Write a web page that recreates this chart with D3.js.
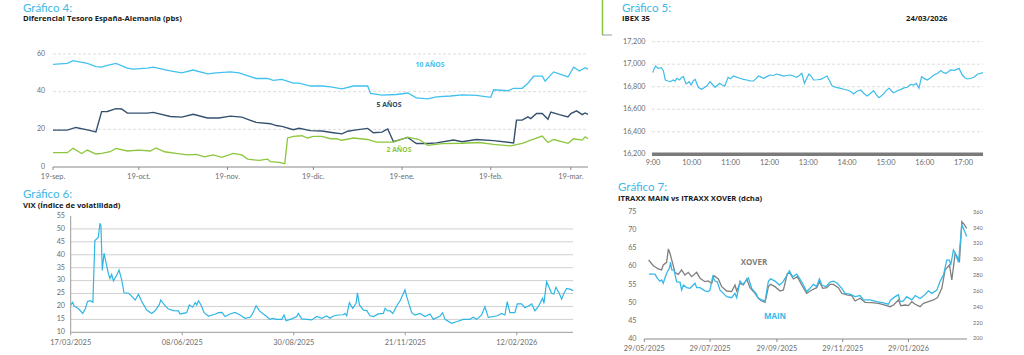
<!DOCTYPE html>
<html><head><meta charset="utf-8">
<script src="https://cdn.jsdelivr.net/npm/d3@7"></script>
<style>
body{margin:0;background:#fff;}
svg{display:block;font-family:Lato,"Open Sans",sans-serif;}
</style></head><body>
<svg id="c" width="1024" height="355"></svg>
<script>
// ---------- Gráfico 4: Diferencial Tesoro España-Alemania (pbs) ----------
const g4Start = "2025-09-19", g4End = "2026-03-25";
const g4TickLabels = ["19-sep.","19-oct.","19-nov.","19-dic.","19-ene.","19-feb.","19-mar."];
const g4TickDates = ["2025-09-19","2025-10-19","2025-11-19","2025-12-19","2026-01-19","2026-02-19","2026-03-19"];
const g4YTicks = [0,20,40,60];
// [day offset from 19-sep, value]
const y10 = [[0,54.5],[5,55],[7,56.5],[12,55],[15,53.3],[17,53],[19,54],[22,55],[26,52.5],[28,52],[33,52.5],[35,53],[41,51],[45,50],[49,51.5],[54,49.5],[57,50],[62,50.5],[65,50],[69,48],[71,47],[75,47],[77,46],[80,46.5],[84,44.5],[86,44.5],[90,43],[94,43],[97,42.5],[101,41.5],[105,43],[108,43],[110,43],[111,39.1],[115,38.2],[120,38.5],[124,39.3],[127,36.7],[131,36.2],[134,37.2],[139,37.7],[143,38.3],[148,38],[153,37],[154,41],[159,40.5],[161,41.8],[164,41.8],[166,44.5],[168,48.2],[171,48.2],[172,45.6],[175,50.5],[180,47.8],[182,53],[184,51],[186,52.7],[187,52]];
const y5 = [[0,19.6],[5,19.6],[8,21],[12,19.7],[15,18.6],[17,29.4],[19,29.5],[22,31],[24,30.8],[26,28.6],[33,28.6],[35,29],[41,26.8],[45,26.5],[49,28],[54,26],[58,26],[62,27],[66,26.5],[69,24.8],[71,23.7],[76,23],[78,22],[80,21.6],[84,19.8],[86,20.6],[90,19.3],[94,19.1],[98,18.2],[101,17.6],[103,19],[106,19.7],[110,20.5],[112,18.2],[115,18.5],[117,20.2],[119,13.4],[124,15.7],[127,12.5],[131,12.5],[134,12.8],[140,14.3],[143,13.4],[148,14.6],[154,14],[161,12.8],[162,24.9],[164,24.9],[166,26.6],[167,25.7],[169,28.4],[171,28.4],[173,25.3],[174,29.2],[177,27.8],[180,26.6],[181,28.4],[183,29.8],[185,27.8],[186,28.7],[187,28]];
const y2 = [[0,7.6],[5,7.6],[7,9.9],[9,8.1],[10,7.2],[12,9],[15,6.9],[17,7.2],[20,8.1],[22,9.9],[26,8.5],[30,9],[34,8.5],[36,10.1],[39,8.1],[43,7.2],[47,6.4],[50,6.7],[53,5.4],[56,6.4],[59,5.1],[63,7.2],[66,6.4],[68,4.2],[72,3.5],[75,4.2],[76,2.8],[79,2.5],[81,1.8],[82,15.4],[84,16.3],[87,16.6],[89,15.4],[91,16.3],[94,16.3],[97,15],[99,15],[101,14.2],[105,15.4],[110,14.6],[113,13.2],[119,13.2],[124,15.9],[128,14.6],[131,11.5],[136,12.4],[143,12.6],[149,13],[154,12],[160,11.2],[164,12.6],[167,14.3],[171,16.4],[173,13],[175,14.6],[180,12.6],[182,15],[185,14.3],[186,16],[187,15]];
const g4Labels = ["10 AÑOS","5 AÑOS","2 AÑOS"];

// ---------- Gráfico 5: IBEX 35 ----------
const g5Date = "24/03/2026";
const g5YTicks = [16200,16400,16600,16800,17000,17200];
const g5XTicks = [0,60,120,180,240,300,360,420,480];
const g5XLabels = ["9:00","10:00","11:00","12:00","13:00","14:00","15:00","16:00","17:00"];
// [minutes since 9:00, level]
const ibex = [[0,16925],[1,16949],[4,16984],[8,16963],[13,16969],[16,16943],[19,16860],[23,16851],[27,16845],[31,16860],[34,16850],[37,16875],[41,16860],[44,16880],[47,16889],[51,16825],[56,16845],[59,16815],[62,16850],[65,16866],[70,16795],[75,16777],[79,16790],[83,16806],[88,16845],[92,16820],[96,16795],[100,16815],[103,16830],[107,16815],[111,16806],[116,16883],[120,16870],[124,16895],[129,16885],[134,16875],[140,16865],[145,16860],[150,16852],[155,16851],[159,16870],[163,16895],[167,16885],[171,16875],[176,16890],[181,16904],[186,16900],[191,16913],[196,16905],[202,16895],[207,16900],[212,16904],[217,16895],[222,16883],[226,16900],[230,16919],[234,16830],[238,16880],[241,16913],[245,16890],[248,16860],[254,16862],[259,16866],[264,16880],[269,16895],[277,16806],[283,16795],[290,16786],[295,16778],[300,16771],[305,16760],[310,16735],[315,16760],[321,16771],[326,16740],[331,16718],[336,16740],[341,16765],[345,16730],[349,16703],[353,16720],[357,16741],[361,16770],[365,16786],[369,16760],[372,16747],[378,16765],[383,16777],[388,16790],[393,16795],[398,16820],[403,16815],[407,16830],[411,16786],[415,16889],[420,16870],[424,16860],[429,16880],[434,16904],[440,16920],[445,16943],[449,16925],[453,16919],[457,16935],[460,16949],[466,16945],[473,16963],[478,16904],[482,16880],[486,16869],[492,16875],[497,16889],[502,16913],[506,16918],[510,16925]];

// ---------- Gráfico 6: VIX ----------
const g6Start = "2025-03-17", g6EndDay = 374;
const g6YTicks = [10,15,20,25,30,35,40,45,50,55];
const g6TickDates = ["2025-03-17","2025-06-08","2025-08-30","2025-11-21","2026-02-12"];
const g6TickLabels = ["17/03/2025","08/06/2025","30/08/2025","21/11/2025","12/02/2026"];
// [day offset from 17/03/2025, VIX]
const vix = [[0,20.6],[1.5,21.6],[2.5,20.2],[6,19],[9,17.3],[11,19.3],[12.5,21.9],[14.5,22.2],[16.5,21.6],[18,45.5],[20.5,46.7],[21.8,52.2],[22.5,51.1],[23.5,33.9],[24.8,40.6],[26.3,37],[28,32.8],[29.2,30.8],[30.5,32.4],[31.8,29.9],[34.3,32.2],[36,34.1],[38,30.2],[39.7,25.3],[43,25.1],[44.6,24.4],[46.1,23.5],[48,22.5],[50.4,24.7],[52.9,21.9],[56.6,18.6],[60.3,17.3],[62.8,18.3],[66,20.8],[67,22.5],[70.3,20.2],[72.7,19],[76.4,18.4],[80.2,18.3],[81.4,17.1],[86.3,17.6],[88.3,20.6],[90.8,19.7],[92.6,21.5],[93.8,20.6],[95.1,22.2],[97,20.6],[99.3,17.6],[102.5,16.3],[107.5,17],[110,17.6],[112.5,17.7],[114.9,16.1],[118.6,17.1],[122.3,17.7],[126,16.7],[129.8,15.4],[133.5,15.8],[134.8,16.7],[136.5,18.4],[138,20.3],[140.5,18.3],[143.4,17.1],[145.9,16.1],[148,15],[150.3,15.4],[153.3,15],[157.1,15],[158.8,16.7],[160.3,14.5],[164.5,15.2],[168.2,16.1],[169.4,17.3],[171.9,15.2],[175.6,15],[179.4,14.8],[183.1,16.1],[186.8,15.4],[190.5,16.3],[193,15.4],[195.5,16.3],[199.2,16.7],[202.9,16.8],[204.2,17.3],[205.4,16.4],[207.4,21.5],[209.9,19.3],[212.4,21.2],[213.4,25.3],[214.9,20.6],[217.9,18.6],[220.3,18.4],[222.8,16.4],[225.3,16.1],[229,17.1],[232.7,17.3],[234,19.3],[235.7,18.4],[237.7,18.3],[239.7,17.3],[242.6,20.2],[245.1,22.2],[247.1,24.4],[248.8,26.4],[250.1,23.8],[253.8,17.6],[256.3,16.7],[260,17.3],[263.7,16.1],[267.4,17.1],[269.9,15],[274.9,16.3],[276.8,17.6],[278.6,15],[283.5,13.5],[287.2,14.1],[292.2,15],[297.1,15],[299.6,15.8],[302.1,15],[305.8,16.7],[308.3,19.9],[310.8,15.8],[317,16.3],[320.7,17.3],[323.2,16.7],[324.9,21.9],[326.9,17.6],[330.6,17.6],[332.4,21],[335.6,21],[338.1,19.5],[340.6,20.2],[343.1,21],[345.5,18.3],[348,19.9],[351.2,23.2],[352.2,21.2],[354.2,29.6],[357.9,25.1],[359.6,24.8],[361.1,27.4],[363.6,25.1],[365.4,22.8],[367.1,25.1],[369.1,27],[372.1,26.6],[374,26.1]];

// ---------- Gráfico 7: ITRAXX MAIN vs ITRAXX XOVER (dcha) ----------
const g7Start = "2025-05-29", g7EndDay = 299;
const g7YLeft = [40,45,50,55,60,65,70,75];
const g7YRight = [200,220,240,260,280,300,320,340,360];
const g7TickDates = ["2025-05-29","2025-07-29","2025-09-29","2025-11-29","2026-01-29"];
const g7TickLabels = ["29/05/2025","29/07/2025","29/09/2025","29/11/2025","29/01/2026"];
// [day offset from 29/05/2025, value]
const itxMain = [[4.3,57.9],[9.9,57.9],[12,56.8],[14.5,56],[16.1,56.3],[17.6,55.4],[19.2,56.9],[21.3,58.6],[23.2,59.5],[24.4,61.2],[25.4,59.1],[27.5,59.1],[30,55.8],[33.1,55.7],[34.6,53.5],[36.2,54.9],[39.3,54.2],[42.4,54],[47,55.4],[48.6,54.2],[51.7,54.2],[56.3,53.3],[59.4,53.1],[60.9,53.5],[63.4,57.2],[65.6,56],[67.7,55.8],[70.2,53.5],[73.3,52.6],[76.4,51.7],[81,51.4],[84.1,52.6],[85.7,51.4],[88.8,56],[91.2,55.1],[93.4,55.7],[96.5,56.9],[99.6,54],[103.6,52.6],[105.8,51.2],[108.9,50.8],[112,50.5],[115.1,56],[117.2,56.6],[121.2,56],[125.3,54.9],[128.4,55.7],[132.1,57.5],[134.6,58.8],[137.6,57.2],[141.4,57.9],[146,55.8],[150.6,53.1],[153.7,54],[156.8,55.1],[159.9,54.5],[162.4,56.6],[164.6,54.9],[168.6,54.5],[172.3,55.7],[175.4,56],[179.1,55.4],[183.1,54],[186.2,52.6],[190.8,52.4],[195.5,51.7],[200.1,52],[203.2,50.8],[209.4,50.8],[215.6,50.3],[221.8,50],[226.4,49.6],[228.6,50.8],[232.6,51.7],[235.7,52.2],[237.2,50.3],[240.3,50.5],[243.4,51.7],[248.1,50.8],[251.2,52],[255.8,51.2],[260.4,52.3],[263.5,53.3],[266.6,52.6],[271.3,53.5],[274.4,56],[277.5,57.7],[280.5,61.8],[283,61.8],[284.2,60.4],[286.7,64.6],[288.3,63.7],[291.4,61.2],[294.5,71.5],[296.6,70.1],[299,68.3]];
const itxXover = [[4,299.8],[8.4,292.6],[13,288.4],[16,287.2],[17.6,293.5],[20.7,296.8],[22.3,313.7],[23.8,308.2],[26.3,295.6],[28.5,283.8],[31.5,281.7],[34.6,287.2],[37.7,280.8],[40.8,284.2],[43.9,278.7],[48.6,284.2],[51.7,276.6],[56.3,272.4],[59.4,273.3],[62.5,270.3],[64.6,280],[68.7,275.8],[71.8,266.1],[76.4,260.6],[81,259.8],[84.1,268.2],[85.7,260.6],[88.8,270.3],[91.9,268.2],[95,275.8],[98,264.8],[102.7,257.7],[105.8,251.4],[108.9,248],[112,246.3],[115.1,266.1],[117.2,269],[121.2,266.1],[125.9,260.6],[129,261.9],[132.7,282.9],[135.2,282.9],[138.3,275.8],[142,278.7],[146,268.2],[150.6,257.7],[155.3,261.9],[159.9,264.8],[162.4,272.4],[165.5,264],[169.2,264.8],[172.3,269],[175.4,269],[180,264.8],[183.1,257.7],[187.8,255.6],[192.4,254.7],[195.5,248],[200.1,251.4],[204.8,246.3],[211,245.9],[217.2,245],[223.3,242.9],[228,240.8],[231.1,242.9],[235.7,249.3],[237.9,242.1],[241.9,242.9],[245,242.1],[248.1,247.2],[251.2,243.8],[255.8,240.8],[258.9,245],[263.5,247.2],[268.2,249.3],[271.9,252.2],[275.9,264],[279,287.2],[283,293.5],[285.2,274.5],[288.3,308.2],[292.3,298.5],[294.5,348.2],[296.6,344.8],[299,339.8]];

// ================== drawing ==================
const svg = d3.select("#c");
const TITLE = "#3cb9e6", TICK = "#6d6d6d", GRID = "#d4d4d4";
const SUB_FONT = "'Open Sans',Lato,sans-serif";
const parse = d3.utcParse("%Y-%m-%d");
const addDays = (s, d) => new Date(parse(s).getTime() + d * 86400000);

function title(x, y, t, s) {
  // y = baseline of the title
  svg.append("text").attr("x", x).attr("y", y)
    .attr("font-size", 11.5).attr("fill", TITLE).text(t);
  svg.append("text").attr("x", x).attr("y", y + 9.5).attr("font-family", SUB_FONT)
    .attr("font-size", 7.7).attr("font-weight", "bold").attr("fill", "#1a1a1a").text(s);
}
function tickText(g, x, y, t, anchor, size) {
  g.append("text").attr("x", x).attr("y", y).attr("text-anchor", anchor || "middle")
    .attr("dominant-baseline", "middle").attr("font-size", size || 7.2).attr("fill", TICK).text(t);
}

// ---- Gráfico 4 ----
title(23, 11.5, "Gráfico 4:", "Diferencial Tesoro España-Alemania (pbs)");
{
  const g = svg.append("g");
  const x = d3.scaleUtc().domain([parse(g4Start), parse(g4End)]).range([53, 588]);
  const y = d3.scaleLinear().domain([0, 60]).range([167, 54]);
  g4YTicks.forEach(v => {
    if (v > 0) g.append("line").attr("x1", 53).attr("x2", 588).attr("y1", y(v)).attr("y2", y(v))
      .attr("stroke", GRID).attr("stroke-width", 0.8).attr("stroke-dasharray", "3,2");
    tickText(g, 45, y(v), v, "end", 7);
  });
  g.append("line").attr("x1", 53).attr("x2", 588).attr("y1", y(0)).attr("y2", y(0)).attr("stroke", "#8a8a8a").attr("stroke-width", 1);
  g4TickDates.forEach((d, i) => {
    const xx = x(parse(d));
    g.append("line").attr("x1", xx).attr("x2", xx).attr("y1", y(0)).attr("y2", y(0) + 3).attr("stroke", "#8a8a8a");
    tickText(g, xx, 177, g4TickLabels[i], "middle", 7.4);
  });
  const line = d3.line().x(d => x(addDays(g4Start, d[0]))).y(d => y(d[1]));
  [[y10, "#42c1ef", 1.3], [y5, "#34506e", 1.4], [y2, "#8cc63e", 1.3]].forEach(([data, c, w]) =>
    g.append("path").datum(data).attr("d", line).attr("fill", "none").attr("stroke", c).attr("stroke-width", w));
  const lab = [[430, 65, "#42c1ef"], [389, 105, "#2e4a68"], [399, 150, "#8cc63e"]];
  g4Labels.forEach((t, i) => g.append("text").attr("x", lab[i][0]).attr("y", lab[i][1]).attr("text-anchor", "middle")
    .attr("dominant-baseline", "middle").attr("font-family", SUB_FONT).attr("font-size", 6.8).attr("font-weight", "bold").attr("fill", lab[i][2]).text(t));
}

// ---- Gráfico 5 ----
title(622, 11.5, "Gráfico 5:", "IBEX 35");
svg.append("text").attr("x", 906).attr("y", 21).attr("font-family", SUB_FONT)
  .attr("font-size", 7.7).attr("font-weight", "bold").attr("fill", "#1a1a1a").text(g5Date);
svg.append("line").attr("x1", 602.5).attr("x2", 602.5).attr("y1", 0).attr("y2", 35).attr("stroke", "#8cc63e").attr("stroke-width", 1.5);
svg.append("line").attr("x1", 602).attr("x2", 612).attr("y1", 35).attr("y2", 35).attr("stroke", "#9a9a9a").attr("stroke-width", 1);
{
  const g = svg.append("g");
  const x = d3.scaleLinear().domain([0, 510]).range([653, 983]);
  const y = d3.scaleLinear().domain([16200, 17200]).range([154.3, 41.7]);
  const fmt = d3.format(",");
  g5YTicks.forEach(v => {
    if (v > 16200) g.append("line").attr("x1", 652).attr("x2", 983).attr("y1", y(v)).attr("y2", y(v))
      .attr("stroke", GRID).attr("stroke-width", 0.8).attr("stroke-dasharray", "3,2");
    tickText(g, 645.5, y(v), fmt(v), "end", 7.2);
  });
  g.append("line").attr("x1", 652).attr("x2", 983).attr("y1", y(16200)).attr("y2", y(16200)).attr("stroke", "#7a7a7a").attr("stroke-width", 3.5);
  g5XTicks.forEach((m, i) => tickText(g, x(m), 163.5, g5XLabels[i], "middle", 7.4));
  const line = d3.line().x(d => x(d[0])).y(d => y(d[1]));
  g.append("path").datum(ibex).attr("d", line).attr("fill", "none").attr("stroke", "#3dbde9").attr("stroke-width", 1.2);
}

// ---- Gráfico 6 ----
title(23, 198, "Gráfico 6:", "VIX (Índice de volatilidad)");
{
  const g = svg.append("g");
  const x = d3.scaleUtc().domain([parse(g6Start), addDays(g6Start, g6EndDay)]).range([70.7, 573.2]);
  const y = d3.scaleLinear().domain([10, 55]).range([332.3, 216]);
  g6YTicks.forEach(v => {
    if (v > 10 && v < 55) g.append("line").attr("x1", 71).attr("x2", 573).attr("y1", y(v)).attr("y2", y(v))
      .attr("stroke", "#d0d0d0").attr("stroke-width", 1);
    tickText(g, 65, y(v), v, "end", 7.2);
  });
  g.append("line").attr("x1", 70.7).attr("x2", 70.7).attr("y1", y(55)).attr("y2", y(10)).attr("stroke", "#9a9a9a").attr("stroke-width", 1);
  g.append("line").attr("x1", 70.7).attr("x2", 573).attr("y1", y(10)).attr("y2", y(10)).attr("stroke", "#9a9a9a").attr("stroke-width", 1);
  g6TickDates.forEach((d, i) => {
    const xx = x(parse(d));
    g.append("line").attr("x1", xx).attr("x2", xx).attr("y1", y(10)).attr("y2", y(10) + 3).attr("stroke", "#9a9a9a");
    tickText(g, xx, 343, g6TickLabels[i], "middle", 7.4);
  });
  const line = d3.line().x(d => x(addDays(g6Start, d[0]))).y(d => y(d[1]));
  g.append("path").datum(vix).attr("d", line).attr("fill", "none").attr("stroke", "#2fb6e4").attr("stroke-width", 1.2);
}

// ---- Gráfico 7 ----
title(618, 191, "Gráfico 7:", "ITRAXX MAIN vs ITRAXX XOVER (dcha)");
{
  const g = svg.append("g");
  const x = d3.scaleUtc().domain([parse(g7Start), addDays(g7Start, g7EndDay)]).range([644.3, 966.7]);
  const yL = d3.scaleLinear().domain([40, 75]).range([339, 212.3]);
  const yR = d3.scaleLinear().domain([200, 360]).range([339, 212.3]);
  g7YLeft.forEach(v => tickText(g, 636.5, yL(v), v, "end", 7.2));
  g7YRight.forEach(v => tickText(g, 973, yR(v), v, "start", 5.5));
  g.append("line").attr("x1", 644.3).attr("x2", 967).attr("y1", yL(40)).attr("y2", yL(40)).attr("stroke", "#8a8a8a").attr("stroke-width", 1);
  g7TickDates.forEach((d, i) => {
    const xx = x(parse(d));
    g.append("line").attr("x1", xx).attr("x2", xx).attr("y1", yL(40)).attr("y2", yL(40) + 3).attr("stroke", "#8a8a8a");
    tickText(g, xx, 349, g7TickLabels[i], "middle", 7.4);
  });
  const lineR = d3.line().x(d => x(addDays(g7Start, d[0]))).y(d => yR(d[1]));
  const lineL = d3.line().x(d => x(addDays(g7Start, d[0]))).y(d => yL(d[1]));
  g.append("path").datum(itxXover).attr("d", lineR).attr("fill", "none").attr("stroke", "#7f7f7f").attr("stroke-width", 1.3);
  g.append("path").datum(itxMain).attr("d", lineL).attr("fill", "none").attr("stroke", "#37b9e8").attr("stroke-width", 1.3);
  g.append("text").attr("x", 754).attr("y", 263).attr("text-anchor", "middle").attr("dominant-baseline", "middle")
    .attr("font-family", SUB_FONT).attr("font-size", 8).attr("font-weight", "bold").attr("fill", "#7f7f7f").text("XOVER");
  g.append("text").attr("x", 775).attr("y", 317).attr("text-anchor", "middle").attr("dominant-baseline", "middle")
    .attr("font-family", SUB_FONT).attr("font-size", 8).attr("font-weight", "bold").attr("fill", "#37b9e8").text("MAIN");
}
</script>
</body></html>
